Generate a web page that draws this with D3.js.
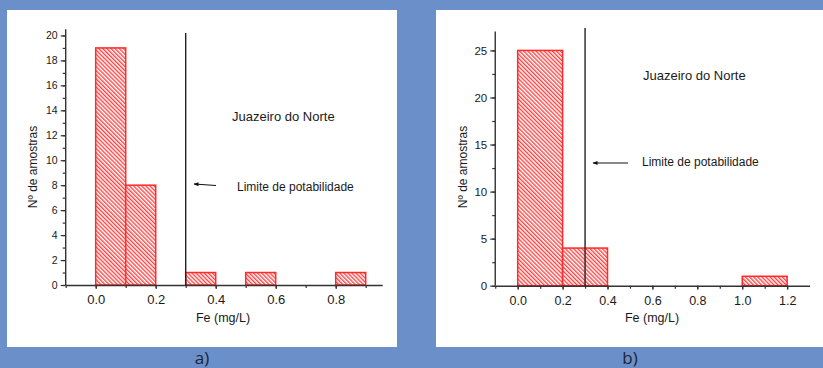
<!DOCTYPE html>
<html><head><meta charset="utf-8">
<script src="https://cdn.jsdelivr.net/npm/d3@7"></script>
<style>
html,body{margin:0;padding:0;background:#6b8fc8;}
svg{display:block;}
</style></head>
<body>
<svg id="chart" width="823" height="368"></svg>
<script>
// Panel a) data
const binStartA = [0.0, 0.1, 0.3, 0.5, 0.8];
const binEndA   = [0.1, 0.2, 0.4, 0.6, 0.9];
const countsA   = [19, 8, 1, 1, 1];
const xTicksA   = [0.0, 0.2, 0.4, 0.6, 0.8];
const yTicksA   = [0, 2, 4, 6, 8, 10, 12, 14, 16, 18, 20];
// Panel b) data
const binStartB = [0.0, 0.2, 1.0];
const binEndB   = [0.2, 0.4, 1.2];
const countsB   = [25, 4, 1];
const xTicksB   = [0.0, 0.2, 0.4, 0.6, 0.8, 1.0, 1.2];
const yTicksB   = [0, 5, 10, 15, 20, 25];
const limitValue = 0.3;
const xTitle = "Fe (mg/L)";
const yTitle = "Nº de amostras";
const cityLabel = "Juazeiro do Norte";
const limitLabel = "Limite de potabilidade";
const panelLabels = ["a)", "b)"];

const svg = d3.select("#chart");
const defs = svg.append("defs");
const pat = defs.append("pattern").attr("id","hatch")
  .attr("patternUnits","userSpaceOnUse").attr("width",2.9).attr("height",2.9)
  .attr("patternTransform","rotate(-45)");
pat.append("rect").attr("width",2.9).attr("height",2.9).attr("fill","#fff");
pat.append("line").attr("x1",0.7).attr("y1",-1).attr("x2",0.7).attr("y2",4)
  .attr("stroke","#ff2e2e").attr("stroke-width",1.25);
const mk = defs.append("marker").attr("id","arr").attr("viewBox","0 0 10 10")
  .attr("refX",9).attr("refY",5).attr("markerWidth",8).attr("markerHeight",5)
  .attr("orient","auto").attr("markerUnits","userSpaceOnUse");
mk.append("path").attr("d","M0,1 L10,5 L0,9 Z").attr("fill","#111");

// white panels
svg.append("rect").attr("x",7).attr("y",10).attr("width",390).attr("height",337).attr("fill","#fff");
svg.append("rect").attr("x",436).attr("y",10).attr("width",387).attr("height",337).attr("fill","#fff");

const font = "'Liberation Sans', Arial, sans-serif";

function panel(cfg){
  const g = svg.append("g");
  const x = d3.scaleLinear().domain(cfg.xDom).range(cfg.xRange);
  const y = d3.scaleLinear().domain(cfg.yDom).range(cfg.yRange);
  const bars = cfg.starts.map((s,i)=>({s, e: cfg.ends[i], c: cfg.counts[i]}));
  g.selectAll("rect.bar").data(bars).join("rect").attr("class","bar")
    .attr("x",d=>x(d.s)).attr("y",d=>y(d.c))
    .attr("width",d=>x(d.e)-x(d.s)).attr("height",d=>y(0)-y(d.c))
    .attr("fill","url(#hatch)").attr("stroke","#ff2a2a").attr("stroke-width",1.5);

  // y axis
  const ya = g.append("g").attr("transform",`translate(${x(cfg.xDom[0])},0)`)
    .call(d3.axisLeft(y).tickValues(cfg.yTicks).tickSize(5).tickSizeOuter(0).tickPadding(3).tickFormat(d3.format("d")));
  const ym = g.append("g").attr("transform",`translate(${x(cfg.xDom[0])},0)`)
    .call(d3.axisLeft(y).tickValues(d3.range(cfg.yDom[0], cfg.yDom[1], cfg.yMinor)).tickSize(3).tickSizeOuter(0).tickFormat(""));
  ym.select(".domain").remove();
  ya.select(".domain").attr("d",`M0,${y(cfg.yDom[0])}V${y(cfg.yDom[1])}`);
  ya.selectAll("text").attr("font-size",cfg.yFont).attr("font-family",font).attr("fill","#1a1a1a");

  // x axis
  const xa = g.append("g").attr("transform",`translate(0,${y(0)})`)
    .call(d3.axisBottom(x).tickValues(cfg.xTicks).tickSize(4).tickSizeOuter(0).tickPadding(6).tickFormat(d3.format(".1f")));
  const xm = g.append("g").attr("transform",`translate(0,${y(0)})`)
    .call(d3.axisBottom(x).tickValues(d3.range(cfg.xDom[0], cfg.xDom[1], 0.1)).tickSize(3).tickSizeOuter(0).tickFormat(""));
  xm.select(".domain").remove();
  xa.selectAll("text").attr("font-size",cfg.xFont).attr("font-family",font).attr("fill","#1a1a1a");
  [ya,ym,xa,xm].forEach(a=>{a.selectAll("line").attr("stroke","#333").attr("stroke-width",1.2);
    a.selectAll(".domain").attr("stroke","#333").attr("stroke-width",1.4);});

  // limit line
  g.append("line").attr("x1",x(limitValue)).attr("x2",x(limitValue))
    .attr("y1",cfg.limitTop).attr("y2",y(0)).attr("stroke","#222").attr("stroke-width",1.4);

  // titles
  g.append("text").attr("x",cfg.xTitle[0]).attr("y",cfg.xTitle[1]).attr("text-anchor","middle")
    .attr("font-family",font).attr("font-size",12.5).attr("fill","#1a1a1a").text(xTitle);
  g.append("text").attr("transform",`translate(${cfg.yTitle[0]},${cfg.yTitle[1]}) rotate(-90)`)
    .attr("text-anchor","middle").attr("font-family",font).attr("font-size",12).attr("fill","#1a1a1a").text(yTitle);
  g.append("text").attr("x",cfg.city[0]).attr("y",cfg.city[1])
    .attr("font-family",font).attr("font-size",13).attr("fill","#1a1a1a").text(cityLabel);
  g.append("text").attr("x",cfg.lim[0]).attr("y",cfg.lim[1])
    .attr("font-family",font).attr("font-size",12).attr("fill","#1a1a1a").text(limitLabel);
  g.append("line").attr("x1",cfg.arrow[0]).attr("y1",cfg.arrow[1]).attr("x2",cfg.arrow[2]).attr("y2",cfg.arrow[3])
    .attr("stroke","#111").attr("stroke-width",1.1).attr("marker-end","url(#arr)");
  svg.append("text").attr("x",cfg.panelLabel[0]).attr("y",cfg.panelLabel[1]).attr("text-anchor","middle")
    .attr("font-family","'Open Sans', 'Noto Sans', sans-serif").attr("font-size",17).attr("fill","#1c2433").text(cfg.label);
}

panel({xDom:[-0.1,0.955], xRange:[65.7,382.2], yDom:[0,20.5], yRange:[285,29.2],
  starts:binStartA, ends:binEndA, counts:countsA, xTicks:xTicksA, yTicks:yTicksA, yMinor:1,
  yFont:10.5, xFont:13, limitTop:33, xTitle:[223,322], yTitle:[36.5,167],
  city:[232,120.5], lim:[237,190.5], arrow:[216,185.5,194,184], panelLabel:[202,364], label:panelLabels[0]});
panel({xDom:[-0.1,1.3], xRange:[495.25,809.6], yDom:[0,27], yRange:[285.7,31.6],
  starts:binStartB, ends:binEndB, counts:countsB, xTicks:xTicksB, yTicks:yTicksB, yMinor:2.5,
  yFont:11.5, xFont:12.5, limitTop:28, xTitle:[652,322], yTitle:[467,167],
  city:[643,80], lim:[642,165.5], arrow:[628,163,593,163], panelLabel:[630,364], label:panelLabels[1]});
</script>
</body></html>
